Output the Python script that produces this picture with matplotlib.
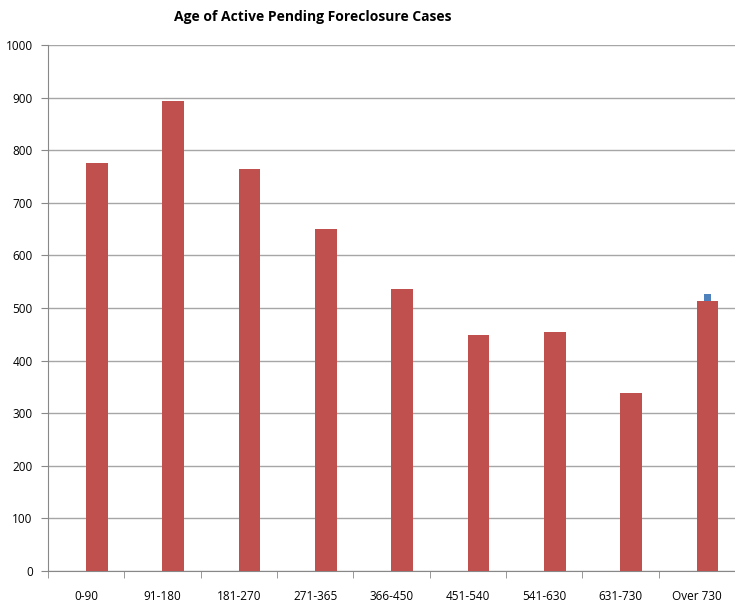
import numpy as np
import matplotlib.pyplot as plt

# age buckets (days) and number of active pending cases
age_buckets = ["0-90", "91-180", "181-270", "271-365", "366-450",
               "451-540", "541-630", "631-730", "Over 730"]
pending_cases = [776, 893, 765, 650, 537, 449, 454, 339, 513]
# second series only has a value in the last bucket
extra_cases = [0, 0, 0, 0, 0, 0, 0, 0, 526]

plt.rcParams['font.family'] = ['Open Sans', 'DejaVu Sans']

fig = plt.figure(figsize=(7.35, 6.04), dpi=100)
ax = fig.add_axes([48 / 735, 1 - 571 / 604, 1 - 48 / 735, (571 - 45) / 604])

x = np.arange(len(age_buckets))
offset = 0.14
ax.bar(x + offset, extra_cases, width=0.1, color="#4F81BD", zorder=2)
ax.bar(x + offset, pending_cases, width=0.286, color="#C0504D", zorder=3)

ax.set_ylim(0, 1000)
ax.set_yticks(range(0, 1001, 100))
ax.set_xlim(-0.5, -0.5 + (735 - 48) / 77.0)

ax.set_xticks(x)
ax.set_xticklabels(age_buckets)
ax.set_xticks(np.arange(-0.5, len(age_buckets) - 0.4, 1), minor=True)
ax.tick_params(axis="x", which="major", length=0, pad=14, labelsize=8.5)
ax.tick_params(axis="x", which="minor", length=5, color="#888888", direction="out")
ax.tick_params(axis="y", length=5, color="#888888", labelsize=8.5, pad=6)

ax.grid(axis="y", color="#A6A6A6", linewidth=1, zorder=0)
ax.set_axisbelow(True)
for side in ["top", "right"]:
    ax.spines[side].set_visible(False)
ax.spines["left"].set_color("#888888")
ax.spines["bottom"].set_color("#888888")

fig.text(313 / 735, 1 - 17 / 604, "Age of Active Pending Foreclosure Cases",
         ha="center", va="center", fontsize=10, fontweight="bold")

fig.savefig("out.png", dpi=100)
